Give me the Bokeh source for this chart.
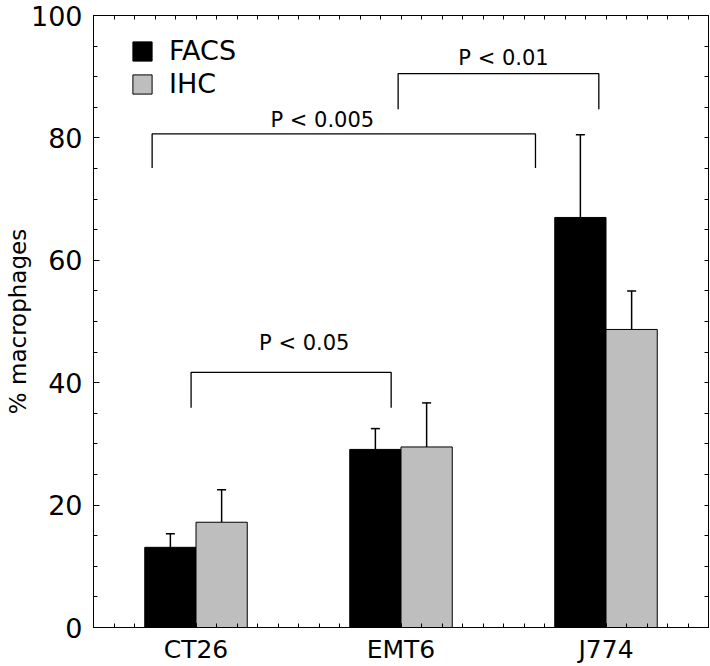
from bokeh.plotting import figure
from bokeh.models import (ColumnDataSource, FixedTicker, LinearAxis, Whisker, TeeHead,
                          Range1d, Legend, LegendItem)
from bokeh.core.properties import value
from bokeh.embed import file_html
from bokeh.resources import INLINE

# ---- data ----
categories = ["CT26", "EMT6", "J774"]
facs = [13.1, 29.1, 67.0]
facs_err = [2.2, 3.4, 13.5]
ihc = [17.2, 29.5, 48.7]
ihc_err = [5.3, 7.2, 6.3]
y_ticks = [0, 20, 40, 60, 80, 100]

p_labels = ["P < 0.005", "P < 0.01", "P < 0.05"]
bracket_left = [2.86, 14.86, 4.76]
bracket_right = [21.56, 24.65, 14.52]
bracket_top = [80.65, 90.5, 41.7]
bracket_bottom = [75.1, 84.7, 35.9]
label_x = [11.16, 20.0, 10.28]
label_y = [82.9, 93.0, 46.5]

FONT = "DejaVu Sans"
GRAY = "#bebebe"

# category centres on a 0..30 axis
centers = [10 * i + 5 for i in range(len(categories))]
bw = 2.5
facs_x = [c - bw / 2 for c in centers]
ihc_x = [c + bw / 2 for c in centers]

p = figure(width=710, height=666, output_backend="svg", toolbar_location=None,
           x_range=Range1d(0, 30), y_range=Range1d(0, 100),
           min_border_left=93, min_border_right=2, min_border_top=15, min_border_bottom=36)
p.grid.visible = False
p.outline_line_color = "black"
p.background_fill_color = "white"
p.border_fill_color = "white"

src_f = ColumnDataSource(dict(x=facs_x, top=facs, lower=facs,
                              upper=[v + e for v, e in zip(facs, facs_err)]))
src_i = ColumnDataSource(dict(x=ihc_x, top=ihc, lower=ihc,
                              upper=[v + e for v, e in zip(ihc, ihc_err)]))

r_f = p.vbar(x="x", top="top", bottom=0, width=bw, source=src_f,
             fill_color="black", line_color="black", line_width=1)
r_i = p.vbar(x="x", top="top", bottom=0, width=bw, source=src_i,
             fill_color=GRAY, line_color="black", line_width=1)

for src in (src_f, src_i):
    w = Whisker(source=src, base="x", lower="lower", upper="upper", dimension="height",
                lower_head=None, upper_head=TeeHead(size=9, line_width=1.5, line_color="black"),
                line_width=1.5, line_color="black")
    p.add_layout(w)

# significance brackets
xs = [[l, l, r, r] for l, r in zip(bracket_left, bracket_right)]
ys = [[b, t, t, b] for t, b in zip(bracket_top, bracket_bottom)]
p.multi_line(xs=xs, ys=ys, line_color="black", line_width=1.3)
p.text(x=label_x, y=label_y, text=p_labels, text_font=value(FONT), text_font_size="21px",
       text_align="center", text_baseline="alphabetic", text_color="black")

# ---- axes ----
xa = p.xaxis[0]
xa.ticker = FixedTicker(ticks=centers, minor_ticks=list(range(1, 30)))
xa.major_label_overrides = {c: n for c, n in zip(centers, categories)}
xa.major_tick_in = 4
xa.major_tick_out = 0
xa.minor_tick_in = 4
xa.minor_tick_out = 0
xa.major_label_standoff = 7
xa.major_label_text_font = FONT
xa.major_label_text_font_size = "25px"
xa.major_label_text_color = "black"
xa.axis_line_color = "black"

ya = p.yaxis[0]
ya.ticker = FixedTicker(ticks=y_ticks, minor_ticks=list(range(0, 101, 5)))
ya.major_tick_in = 6
ya.major_tick_out = 0
ya.minor_tick_in = 4
ya.minor_tick_out = 0
ya.major_label_standoff = 11
ya.major_label_text_font = FONT
ya.major_label_text_font_size = "27px"
ya.major_label_text_color = "black"
ya.axis_line_color = "black"
ya.axis_label = "% macrophages"
ya.axis_label_text_font = FONT
ya.axis_label_text_font_size = "23px"
ya.axis_label_text_font_style = "normal"
ya.axis_label_text_color = "black"
ya.axis_label_standoff = -3

ra = LinearAxis(ticker=FixedTicker(ticks=[], minor_ticks=list(range(0, 101, 5))),
                major_tick_in=4, major_tick_out=0, minor_tick_in=4, minor_tick_out=0,
                major_label_standoff=0, axis_line_color="black")
p.add_layout(ra, "right")

ta = LinearAxis(ticker=FixedTicker(ticks=[], minor_ticks=list(range(1, 30))),
                major_tick_in=4, major_tick_out=0, minor_tick_in=4, minor_tick_out=0,
                major_label_standoff=0, axis_line_color="black")
p.add_layout(ta, "above")

# ---- legend ----
legend = Legend(items=[LegendItem(label="FACS", renderers=[r_f]),
                       LegendItem(label="IHC", renderers=[r_i])],
                location=(37, 528), orientation="vertical",
                glyph_width=24, glyph_height=24, label_standoff=15, spacing=2,
                padding=0, margin=0, label_height=24,
                label_text_font=FONT, label_text_font_size="27px", label_text_color="black",
                border_line_color=None, background_fill_alpha=0)
p.add_layout(legend)

open("out.html", "w").write(file_html(p, INLINE))
